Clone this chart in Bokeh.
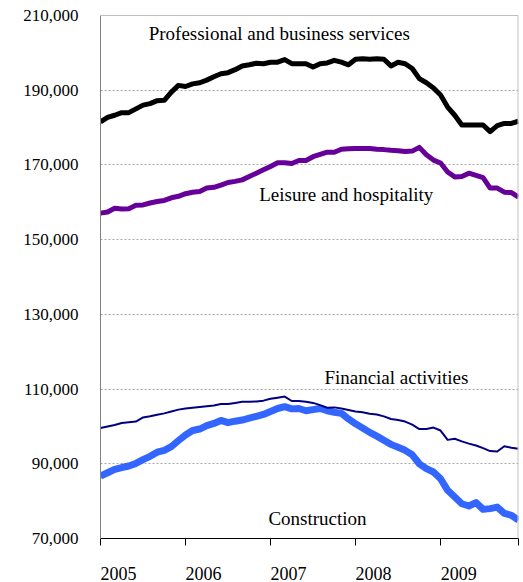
from bokeh.plotting import figure
from bokeh.models import Span, Label, FixedTicker, NumeralTickFormatter
from bokeh.embed import file_html
from bokeh.resources import INLINE

# Monthly employment, Jan 2005 - Dec 2009
years = ["2005", "2006", "2007", "2008", "2009"]

professional = [
    181500, 182700, 183300, 184000, 184000, 185000, 186000, 186400, 187200, 187300,
    189500, 191300, 191000, 191700, 192000, 192700, 193600, 194400, 194700, 195500,
    196500, 196800, 197200, 197100, 197500, 197500, 198200, 197100, 197100, 197100,
    196200, 197100, 197300, 198000, 197500, 196800, 198300, 198400, 198300, 198400,
    198300, 196500, 197500, 197100, 195800, 193100, 192000, 190600, 188700, 185500,
    183300, 180700, 180700, 180700, 180700, 178900, 180500, 181100, 181100, 181700,
]
leisure = [
    157100, 157400, 158400, 158200, 158300, 159200, 159300, 159800, 160200, 160500,
    161200, 161600, 162300, 162700, 162900, 163800, 164000, 164600, 165300, 165600,
    166000, 166900, 167800, 168700, 169600, 170600, 170600, 170400, 171200, 171200,
    172200, 172800, 173400, 173400, 174200, 174300, 174400, 174400, 174400, 174200,
    174100, 173900, 173800, 173600, 173700, 174700, 172700, 171300, 170500, 168100,
    166800, 166900, 167800, 167200, 166600, 163800, 163800, 162700, 162600, 161400,
]
financial = [
    99600, 100000, 100400, 100900, 101100, 101300, 102400, 102700, 103100, 103500,
    104000, 104500, 104800, 105000, 105200, 105400, 105600, 106000, 106000, 106300,
    106600, 106600, 106700, 106900, 107400, 107700, 108000, 106800, 106800, 106600,
    106300, 105700, 105000, 105100, 104800, 104400, 104000, 103800, 103400, 103200,
    102700, 102000, 101700, 101300, 100500, 99300, 99300, 99700, 98900, 96400,
    96700, 96000, 95400, 94900, 94200, 93400, 93300, 94700, 94300, 94000,
]
construction = [
    86700, 87600, 88500, 89000, 89400, 90100, 91100, 92000, 93100, 93600,
    94600, 96200, 97700, 98900, 99300, 100200, 100800, 101600, 101000, 101400,
    101700, 102200, 102700, 103200, 104000, 104800, 105300, 104700, 104800, 104200,
    104500, 104800, 104200, 103800, 103500, 102000, 100700, 99600, 98400, 97400,
    96300, 95200, 94400, 93600, 92400, 90000, 88700, 87800, 86000, 82900,
    81100, 79300, 78700, 79600, 77800, 78000, 78400, 76700, 76200, 74900,
]
y_ticks = [70000, 90000, 110000, 130000, 150000, 170000, 190000, 210000]

n = len(professional)
x = list(range(n))
last = n - 1

FONT = "Liberation Serif"

p = figure(width=523, height=582, x_range=(0, last), y_range=(y_ticks[0], y_ticks[-1]),
           output_backend="svg", toolbar_location=None,
           min_border_left=100, min_border_right=5, min_border_top=15, min_border_bottom=42)
p.outline_line_color = None
p.background_fill_color = "white"
p.border_fill_color = "white"

# y axis
p.yaxis.ticker = FixedTicker(ticks=y_ticks)
p.yaxis.formatter = NumeralTickFormatter(format="0,0")
p.yaxis.major_label_text_font = FONT
p.yaxis.major_label_text_font_size = "17px"
p.yaxis.major_label_text_color = "black"
p.yaxis.axis_line_color = "#808080"
p.yaxis.major_tick_out = 0
p.yaxis.major_tick_in = 0
p.yaxis.minor_tick_out = 0
p.yaxis.minor_tick_in = 0
p.yaxis.major_label_standoff = 22

# x axis: year boundaries as tick marks, year labels slightly right of them
bounds = [12 * k for k in range(len(years))] + [last]
label_pos = [12 * k + 2.55 for k in range(len(years))]
p.xaxis.ticker = FixedTicker(ticks=label_pos, minor_ticks=bounds)
p.xaxis.major_label_overrides = {pos: yr for pos, yr in zip(label_pos, years)}
p.xaxis.major_label_text_font = FONT
p.xaxis.major_label_text_font_size = "18px"
p.xaxis.major_label_text_color = "black"
p.xaxis.axis_line_color = "black"
p.xaxis.major_tick_out = 0
p.xaxis.major_tick_in = 0
p.xaxis.minor_tick_out = 7
p.xaxis.minor_tick_in = 0
p.xaxis.minor_tick_line_color = "black"
p.xaxis.major_label_standoff = 21

# grid
p.xgrid.visible = False
p.ygrid.ticker = FixedTicker(ticks=y_ticks)
p.ygrid.grid_line_color = "#a8a8a8"
p.ygrid.grid_line_dash = "2 2"
p.ygrid.grid_line_width = 1

# frame edges
p.add_layout(Span(location=y_ticks[-1], dimension="width", line_color="#808080", line_width=1))
p.add_layout(Span(location=last, dimension="height", line_color="#c4c4c4", line_width=2))

# series
p.line(x, professional, line_color="black", line_width=5, line_join="round")
p.line(x, leisure, line_color="#660099", line_width=5, line_join="round")
p.line(x, construction, line_color="#3366FF", line_width=7, line_join="round")
p.line(x, financial, line_color="#000080", line_width=2, line_join="round")

# series labels
labels = [
    ("Professional and business services", 6.8, 205300),
    ("Leisure and hospitality", 22.4, 162000),
    ("Financial activities", 31.6, 113200),
    ("Construction", 23.7, 75300),
]
for txt, lx, ly in labels:
    p.add_layout(Label(x=lx, y=ly, text=txt, text_font=FONT, text_font_size="19px",
                       text_color="black", text_baseline="alphabetic", text_align="left"))

open("out.html", "w").write(file_html(p, INLINE))
